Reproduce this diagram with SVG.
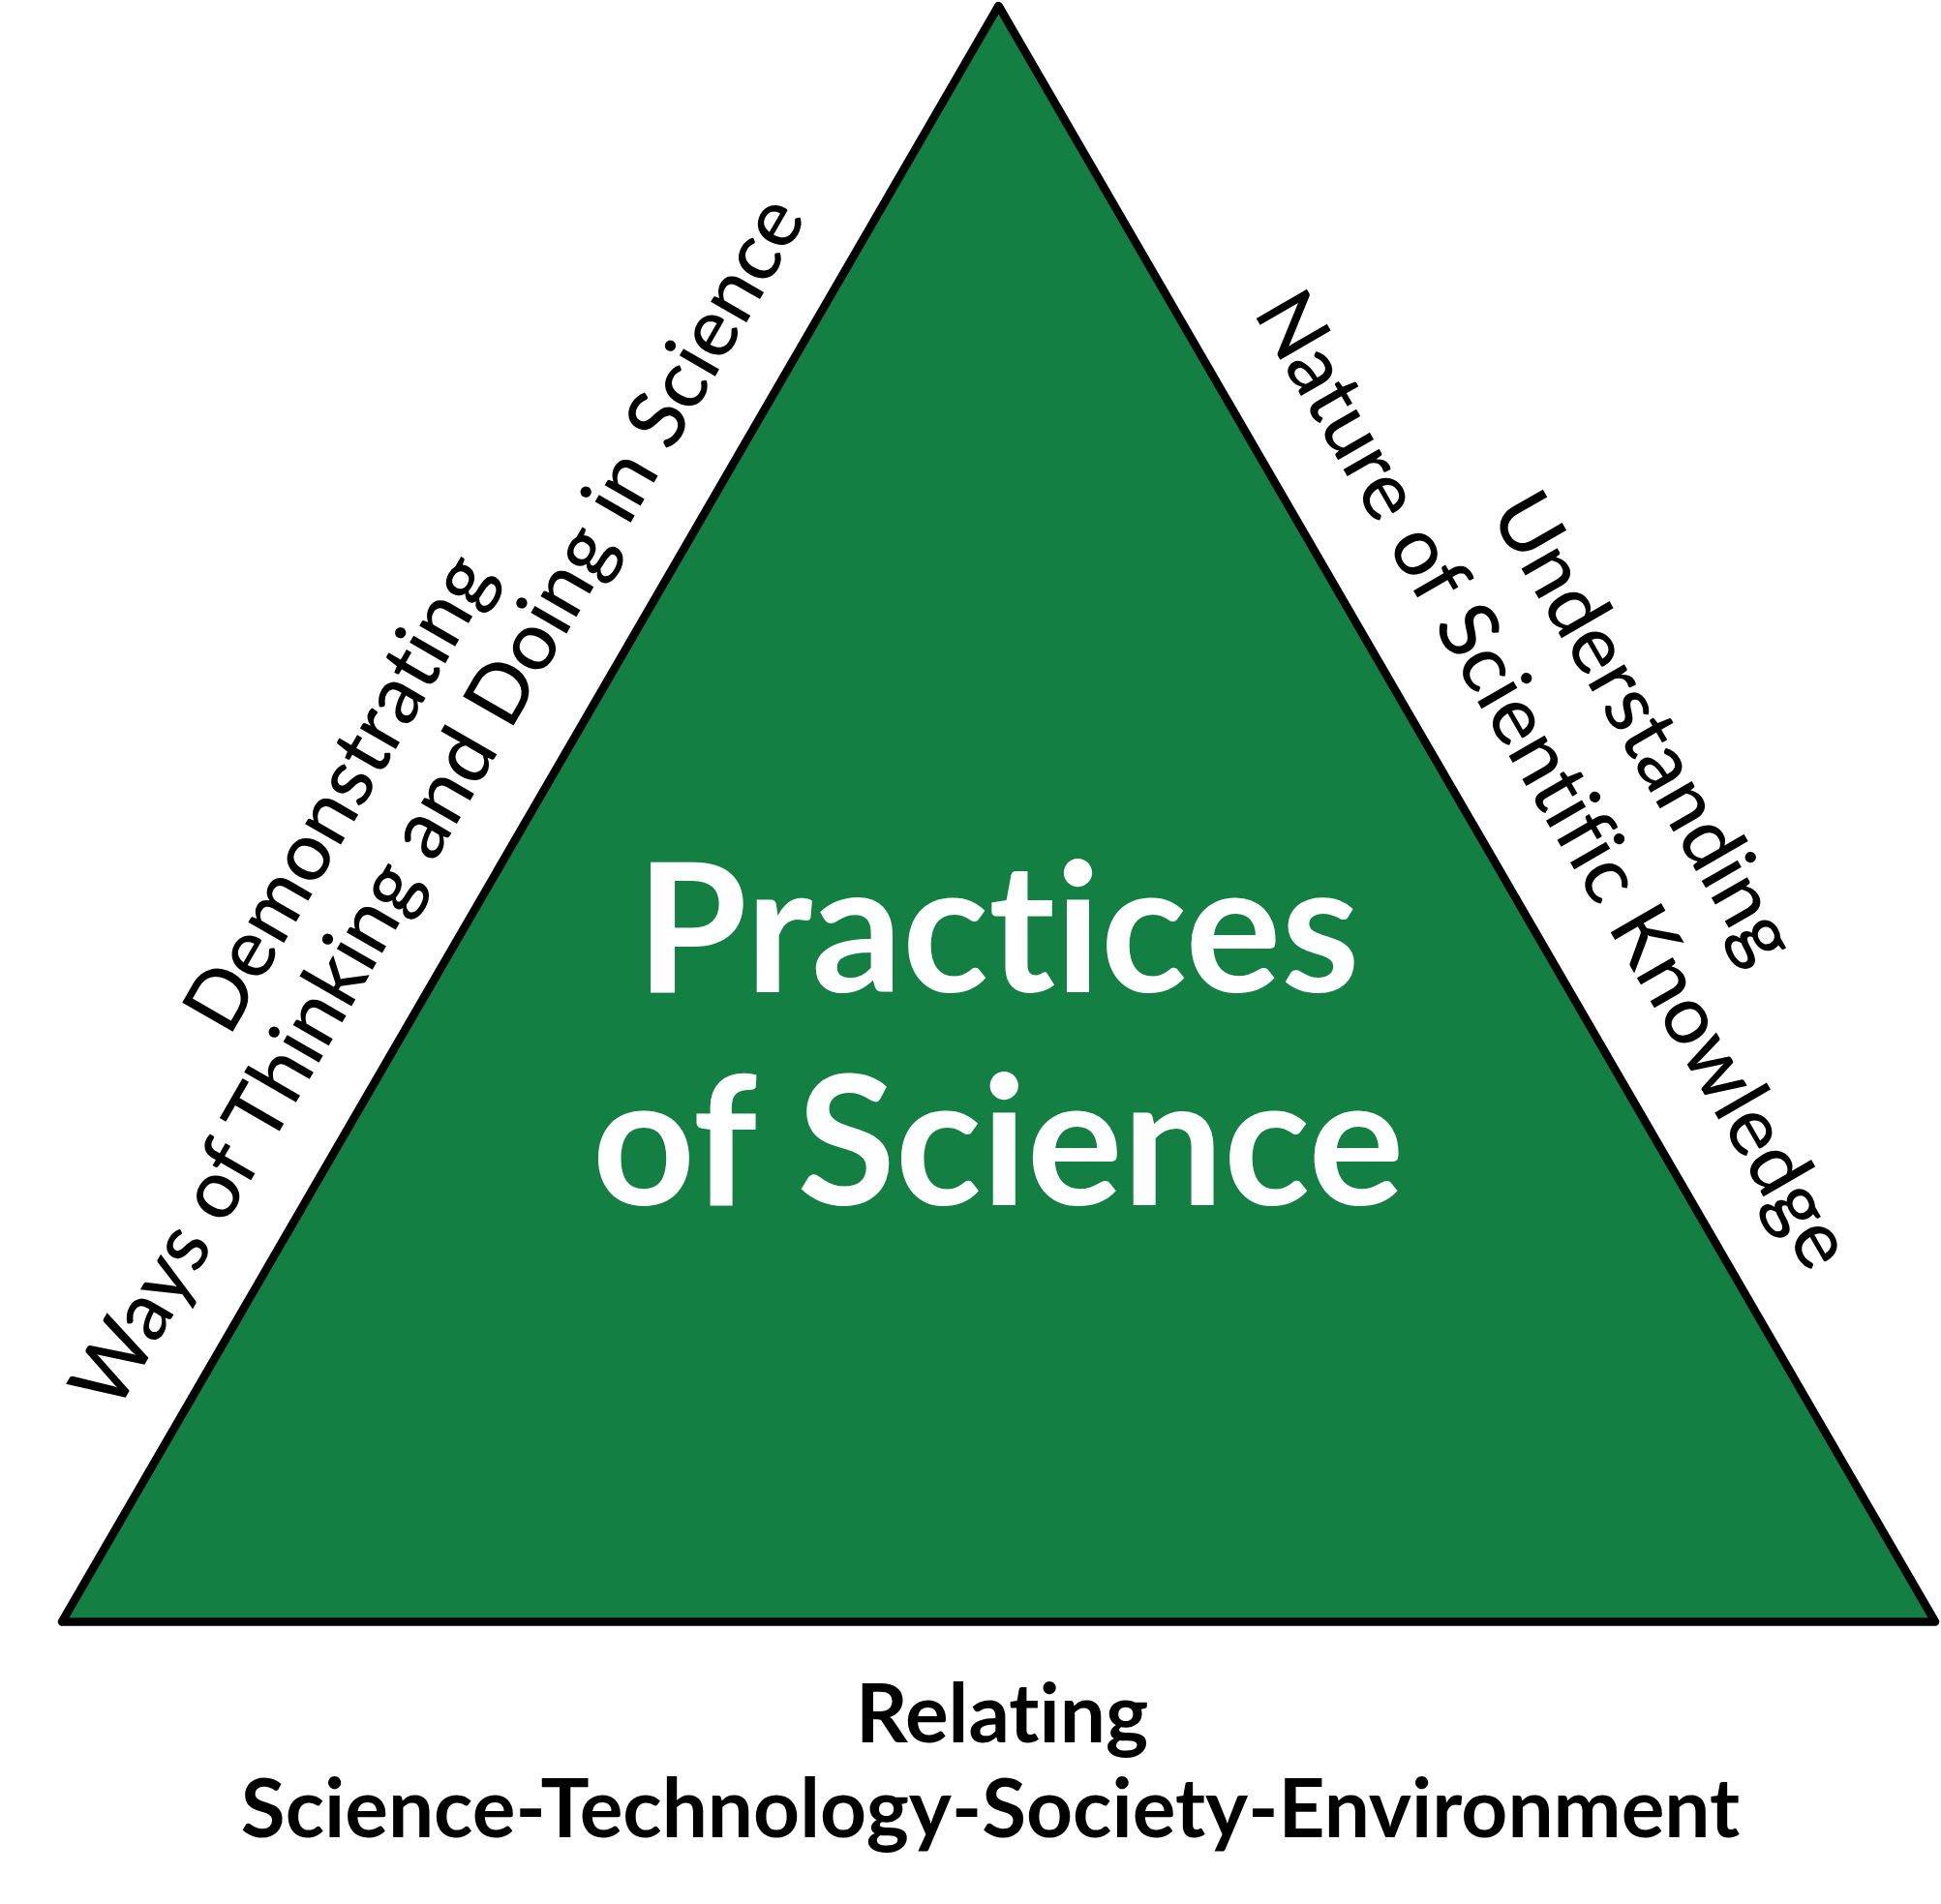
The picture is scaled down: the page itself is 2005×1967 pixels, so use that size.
<svg xmlns="http://www.w3.org/2000/svg" width="2005" height="1967" viewBox="0 0 2005 1967">
<style>
text{font-variant-ligatures:none;font-feature-settings:"liga" 0,"clig" 0,"dlig" 0}
.side{font-family:Lato,"Liberation Sans",sans-serif;font-weight:500;font-size:84px;fill:#000;text-anchor:middle}
.bottom{font-family:Lato,"Liberation Sans",sans-serif;font-weight:700;font-size:83.7px;fill:#000;text-anchor:middle}
.title{font-family:Lato,"Liberation Sans",sans-serif;font-weight:700;font-size:185px;fill:#fff;text-anchor:middle}
</style>
<rect width="2005" height="1967" fill="#fff"/>
<g id="triangle">
<polygon points="1031.5,6 64,1675.5 1999,1675.5" fill="#137f43" stroke="#000" stroke-width="8.5" stroke-linejoin="round"/>
<text class="title" x="1031" y="1025">Practices</text>
<text class="title" x="1031" y="1245">of Science</text>
</g>
<g id="left-label">
<text class="side" transform="translate(374.7,833.2) rotate(-60)">Demonstrating</text>
<text class="side" transform="translate(476.7,842.8) rotate(-60)">Ways of Thinking and Doing in Science</text>
</g>
<g id="right-label">
<text class="side" transform="translate(1674.4,765.6) rotate(60)">Understanding</text>
<text class="side" transform="translate(1581,819.8) rotate(60)">Nature of Scientific Knowledge</text>
</g>
<g id="bottom-label">
<text class="bottom" x="1035" y="1800">Relating</text>
<text class="bottom" x="1023" y="1898">Science-Technology-Society-Environment</text>
</g>
</svg>
